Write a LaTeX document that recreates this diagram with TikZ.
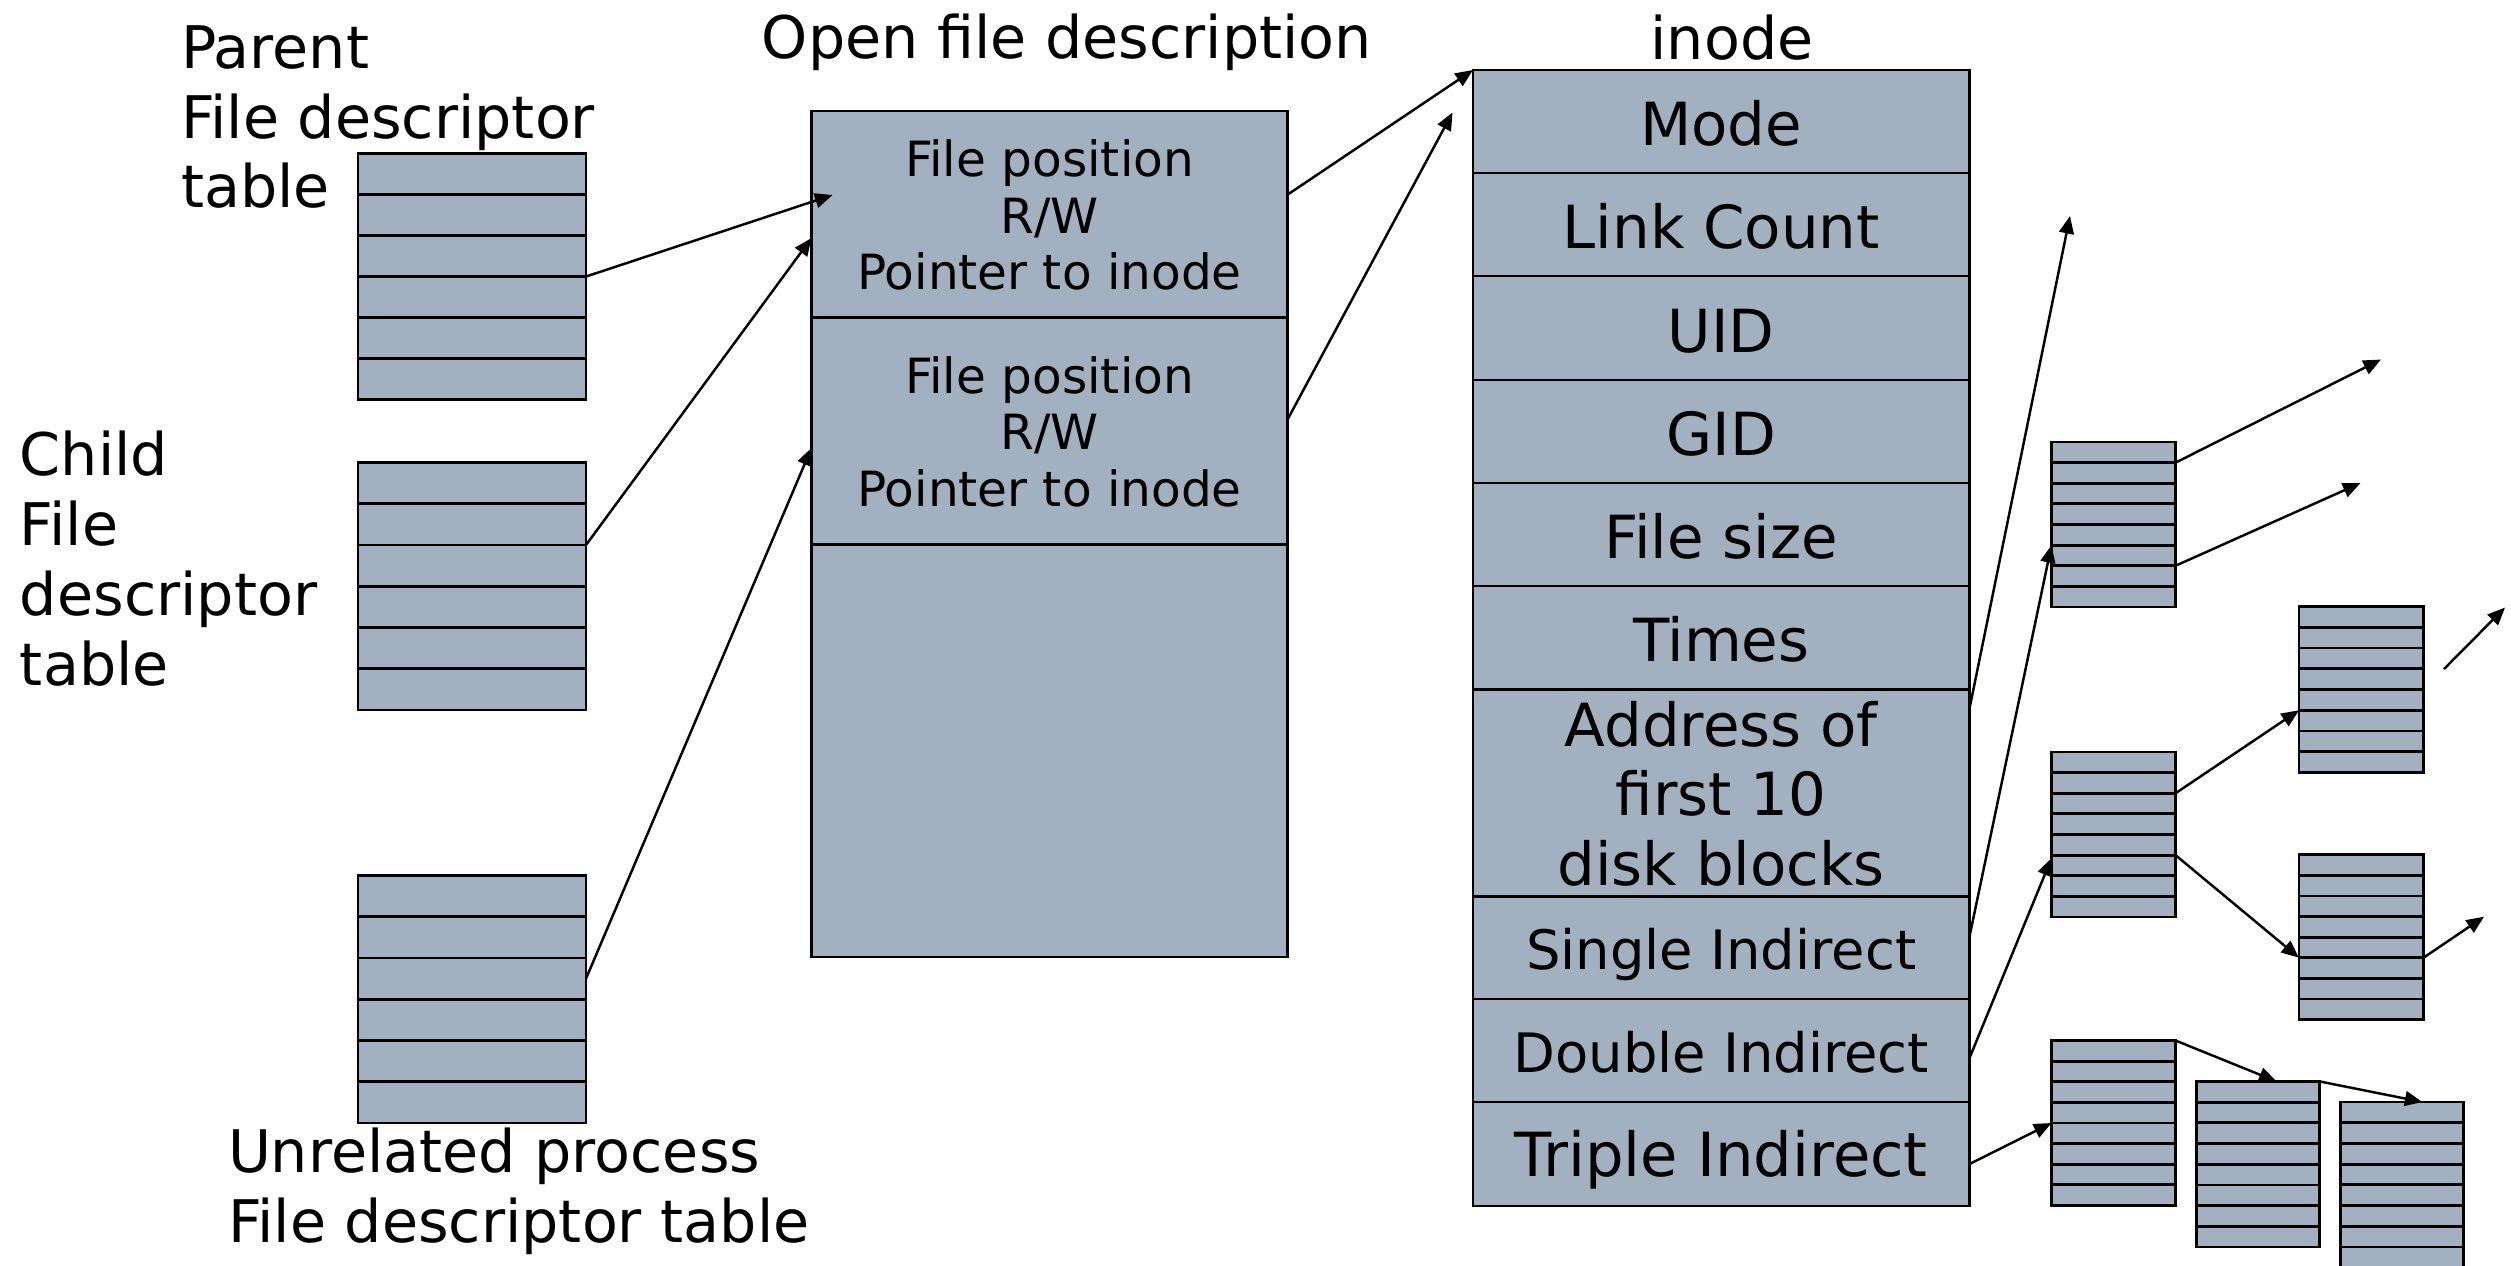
\documentclass[tikz,border=0pt]{standalone}
\usepackage{fontspec}
\setmainfont{DejaVu Sans}
\usetikzlibrary{arrows.meta,calc,fit}
\definecolor{cellfill}{RGB}{162,176,192}
\newcommand\fLab{\fontsize{16.7pt}{19.9pt}\selectfont}
\newcommand\fIno{\fontsize{16.9pt}{19.8pt}\selectfont}
\newcommand\fTri{\fontsize{17.3pt}{19.8pt}\selectfont}
\newcommand\fInd{\fontsize{15.45pt}{18pt}\selectfont}
\newcommand\fOfd{\fontsize{13.8pt}{16.1pt}\selectfont}
\newcommand\mlc[1]{\begin{tabular}[t]{@{}c@{}}#1\end{tabular}}
\newcommand\mll[1]{\begin{tabular}[t]{@{}l@{}}#1\end{tabular}}
\newcommand\rowlines[2]{%
  \pgfmathtruncatemacro\nmlines{#2-1}%
  \foreach \k in {1,...,\nmlines}{%
    \draw[line width=0.8pt] ($(#1.north west)!\k/#2!(#1.south west)$) -- ($(#1.north east)!\k/#2!(#1.south east)$);}}
\begin{document}
\begin{tikzpicture}[x=0.01cm,y=-0.01cm,
  cell/.style={draw=black, fill=cellfill, line width=0.8pt, inner sep=0pt, outer sep=0pt},
  conn/.style={-{Triangle[length=5pt,width=4.2pt]}, line width=0.7pt},
  txt/.style={inner sep=0pt, outer sep=0pt, anchor=base},
  ltxt/.style={inner sep=0pt, outer sep=0pt, anchor=base west}]
\useasboundingbox (0,0) rectangle (2511,1265);
\fill[white] (0,0) rectangle (2511,1265);

% file descriptor tables
\node[cell, fit={(358,153.5) (586,399.5)}] (par) {};
\rowlines{par}{6}
\node[cell, fit={(358,462.5) (586,710)}] (chi) {};
\rowlines{chi}{6}
\node[cell, fit={(358,875.5) (586,1123)}] (unr) {};
\rowlines{unr}{6}

% open file description
\node[cell, fit={(811.5,111) (1287.5,317.6)}] (ofd1) {};
\node[cell, fit={(811.5,317.6) (1287.5,544.2)}] (ofd2) {};
\node[cell, fit={(811.5,544.2) (1287.5,957)}] (ofd3) {};

% inode
\node[cell, fit={(1473,70) (1969.5,173)}] (mode) {};
\node[cell, fit={(1473,173) (1969.5,276)}] (link) {};
\node[cell, fit={(1473,276) (1969.5,380)}] (uid) {};
\node[cell, fit={(1473,380) (1969.5,483)}] (gid) {};
\node[cell, fit={(1473,483) (1969.5,586)}] (fsize) {};
\node[cell, fit={(1473,586) (1969.5,689.5)}] (times) {};
\node[cell, fit={(1473,689.5) (1969.5,896.5)}] (addr) {};
\node[cell, fit={(1473,896.5) (1969.5,999)}] (single) {};
\node[cell, fit={(1473,999) (1969.5,1102)}] (double) {};
\node[cell, fit={(1473,1102) (1969.5,1206)}] (triple) {};

% indirect blocks
\node[cell, fit={(2051.5,442) (2175.5,607)}] (tA) {};
\rowlines{tA}{8}
\node[cell, fit={(2299,606.6) (2423.5,772.4)}] (tB) {};
\rowlines{tB}{8}
\node[cell, fit={(2051.5,752) (2175.5,917)}] (tC) {};
\rowlines{tC}{8}
\node[cell, fit={(2299,854.7) (2423.5,1019.5)}] (tD) {};
\rowlines{tD}{8}
\node[cell, fit={(2051.5,1040.5) (2175.5,1205.5)}] (tE) {};
\rowlines{tE}{8}
\node[cell, fit={(2196.5,1081.4) (2319.6,1247)}] (tF) {};
\rowlines{tF}{8}
\node[cell, fit={(2340.5,1102) (2463.7,1267.6)}] (tG) {};
\rowlines{tG}{8}

% titles and labels
\node[txt, font=\fLab] (tOfd) at (1067,58.5) {Open file description};
\node[txt, font=\fLab] (tIno) at (1732,59.4) {inode};
\node[ltxt, font=\fLab] (lPar) at (181,68) {\mll{Parent\\File descriptor\\table}};
\node[ltxt, font=\fLab] (lChi) at (20,475.6) {\mll{Child\\File\\descriptor\\table}};
\node[ltxt, font=\fLab] (lUnr) at (228,1172.4) {\mll{Unrelated process\\File descriptor table}};

% cell texts
\node[txt, font=\fOfd] (o1t) at (1049.5,176.7) {\mlc{File position\\R/W\\Pointer to inode}};
\node[txt, font=\fOfd] (o2t) at (1049.5,393) {\mlc{File position\\R/W\\Pointer to inode}};
\node[txt, font=\fIno] (modet) at (1721.25,145) {Mode};
\node[txt, font=\fIno] (linkt) at (1721.25,248) {Link Count};
\node[txt, font=\fIno] (uidt) at (1721.25,352.5) {UID};
\node[txt, font=\fIno] (gidt) at (1721.25,455.5) {GID};
\node[txt, font=\fIno] (fsizet) at (1721.25,558) {File size};
\node[txt, font=\fIno] (timest) at (1721.25,661) {Times};
\node[txt, font=\fIno] (addrt) at (1721.25,746) {\mlc{Address of\\first 10\\disk blocks}};
\node[txt, font=\fInd] (singlet) at (1721.25,969.5) {Single Indirect};
\node[txt, font=\fInd] (doublet) at (1721.25,1072.5) {Double Indirect};
\node[txt, font=\fTri] (triplet) at (1721.25,1176.5) {Triple Indirect};

% free ends
\coordinate (pin1) at (832.5,195);
\coordinate (pin2) at (1452.5,112.5);
\coordinate (pAddr) at (2070,216);
\coordinate (pA1) at (2381,359.5);
\coordinate (pA2) at (2360.5,483);
\coordinate (qB) at ($(tB.east)+(20.5,-20.5)$);
\coordinate (pB) at (2505,607.5);
\coordinate (pD) at (2484,916.7);

% connectors
\draw[conn] ($(par.north east)!0.5!(par.south east)$) -- (pin1);
\draw[conn] ($(chi.north east)!2/6!(chi.south east)$) -- ($(ofd1.north west)!0.615!(ofd1.south west)$);
\draw[conn] ($(unr.north east)!2.5/6!(unr.south east)$) -- ($(ofd2.north west)!0.575!(ofd2.south west)$);
\draw[conn] ($(ofd1.north east)!0.405!(ofd1.south east)$) -- (mode.north west);
\draw[conn] ($(ofd2.north east)!0.45!(ofd2.south east)$) -- (pin2);
\draw[conn] ($(addr.north east)+(0,19)$) -- (pAddr);
\draw[conn] ($(single.north east)+(0,40)$) -- ($(tA.north west)!5/8!(tA.south west)$);
\draw[conn] ($(tA.north east)!1/8!(tA.south east)$) -- (pA1);
\draw[conn] ($(tA.north east)!6/8!(tA.south east)$) -- (pA2);
\draw[conn] ($(double.east)+(0,7.5)$) -- ($(tC.north west)!5.15/8!(tC.south west)$);
\draw[conn] ($(tC.north east)!2/8!(tC.south east)$) -- ($(tB.north west)!5/8!(tB.south west)$);
\draw[conn] ($(tC.north east)!5/8!(tC.south east)$) -- ($(tD.north west)!5/8!(tD.south west)$);
\draw[conn] (qB) -- (pB);
\draw[conn] ($(tD.north east)!5/8!(tD.south east)$) -- (pD);
\draw[conn] ($(triple.east)+(0,10)$) -- ($(tE.north west)!4/8!(tE.south west)$);
\draw[conn] (tE.north east) -- ($(tF.north west)!0.65!(tF.north east)$);
\draw[conn] (tF.north east) -- ($(tG.north west)!0.665!(tG.north east)$);
\end{tikzpicture}
\end{document}
